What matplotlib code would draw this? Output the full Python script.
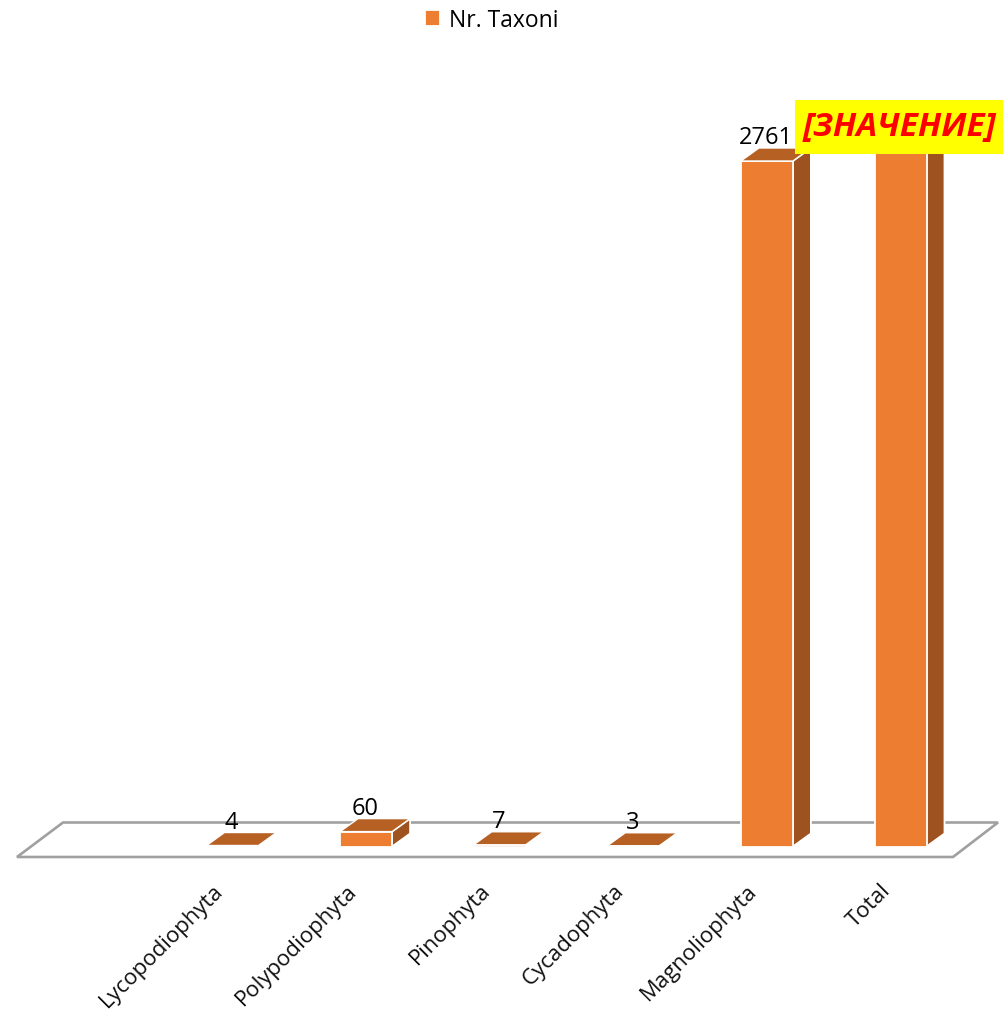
#!/usr/bin/env python
#
#   Nr. Taxoni bar chart with a fake 3D look
#

import numpy as np
from matplotlib import pyplot as plt
from matplotlib.patches import Polygon, Rectangle

categories = ["Lycopodiophyta", "Polypodiophyta", "Pinophyta", "Cycadophyta", "Magnoliophyta", "Total"]
taxa = [4, 60, 7, 3, 2761, 2835]
value_labels = ["4", "60", "7", "3", "2761", "[ЗНАЧЕНИЕ]"]
series_name = "Nr. Taxoni"

FRONT = "#ED7D31"
TOP = "#B66024"
SIDE = "#9E521F"
FLOOR = "#A0A0A0"

W, H = 1005, 1012
BASE_PX = 847.5
X0_PX = 232.5
STEP_PX = 133.6
PX_PER_UNIT = 685.5 / 2761
BAR_PX = 52
DX_PX, DY_PX = 18, 13

plt.rcParams["font.family"] = ["Open Sans", "DejaVu Sans"]

fig = plt.figure(figsize=(W / 100, H / 100), dpi=100)
ax = fig.add_axes([0, 0, 1, 1])
ax.set_xlim(-X0_PX / STEP_PX, (W - X0_PX) / STEP_PX)
ax.set_ylim((BASE_PX - H) / PX_PER_UNIT, BASE_PX / PX_PER_UNIT)
ax.axis("off")

dx = DX_PX / STEP_PX
dy = DY_PX / PX_PER_UNIT
bw = BAR_PX / STEP_PX

# floor, goes a bit below the bars
fl_y0 = -10.5 / PX_PER_UNIT
fl_y1 = (BASE_PX - 823.5) / PX_PER_UNIT
fl_xs = np.array([17, 63, 998, 953])
fl_xs = (fl_xs - X0_PX) / STEP_PX
ax.add_patch(Polygon(list(zip(fl_xs, [fl_y0, fl_y1, fl_y1, fl_y0])), closed=True,
                     facecolor="white", edgecolor=FLOOR, linewidth=1.9, zorder=1))

x = np.arange(len(categories))
bars = ax.bar(x, taxa, width=bw, color=FRONT, edgecolor="white", linewidth=1.3,
              zorder=3, label=series_name)

for xi, val in zip(x, taxa):
    l, r = xi - bw / 2, xi + bw / 2
    top = [(l, val), (r, val), (r + dx, val + dy), (l + dx, val + dy)]
    side = [(r, 0), (r + dx, dy), (r + dx, val + dy), (r, val)]
    ax.add_patch(Polygon(side, closed=True, facecolor=SIDE, edgecolor="white", linewidth=1.3, zorder=2))
    ax.add_patch(Polygon(top, closed=True, facecolor=TOP, edgecolor="white", linewidth=1.0, zorder=4))

# value labels, the last one is the yellow box
for xi, val, txt in zip(x[:-1], taxa[:-1], value_labels[:-1]):
    ax.annotate(txt, (xi, val), xytext=(-1, 24), textcoords="offset pixels",
                ha="center", va="center", fontsize=17, color="black", zorder=6)

box_w = 208 / STEP_PX
box_h = 54 / PX_PER_UNIT
box_cx = x[-1] - 1.5 / STEP_PX
box_cy = taxa[-1] + 16 / PX_PER_UNIT
ax.add_patch(Rectangle((box_cx - box_w / 2, box_cy - box_h / 2), box_w, box_h,
                       facecolor="#FFFF00", edgecolor="none", zorder=6))
ax.text(box_cx, box_cy, value_labels[-1], ha="center", va="center", fontsize=24,
        color="#FF0000", fontweight="bold", fontstyle="italic", zorder=7)

# category labels
for xi, cat in zip(x, categories):
    ax.annotate(cat, (xi, 0), xytext=(-20, -33), textcoords="offset pixels",
                ha="right", va="top", rotation=45, rotation_mode="anchor",
                fontsize=16, color="#111111", zorder=6)

ax.legend(handles=[bars], loc="upper center", bbox_to_anchor=(0.4895, 0.9955),
          frameon=False, fontsize=16.5, handlelength=0.65, handleheight=0.65,
          handletextpad=0.4, borderaxespad=0.0, borderpad=0.2)

fig.savefig("out.png", dpi=100)
